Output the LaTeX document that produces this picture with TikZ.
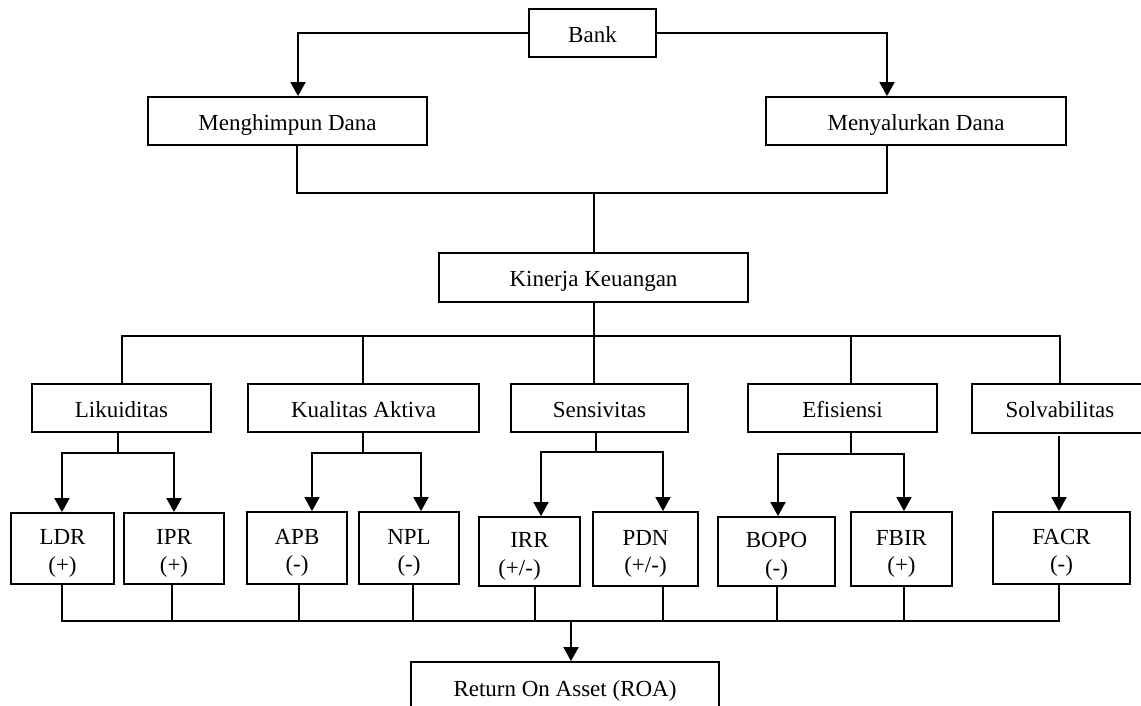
\documentclass[tikz,border=0pt]{standalone}
\usepackage{fontspec}
\setmainfont{Liberation Serif}
\usetikzlibrary{arrows.meta}
\newcommand\tstrut{\rule{0pt}{25pt}}
\begin{document}
\begin{tikzpicture}[x=1pt,y=-1pt,
  box/.style={draw,line width=1.8pt,rectangle,inner sep=0pt,align=center,font=\fontsize{23}{27.5}\selectfont},
  one/.style={box,text height=19pt,text depth=1pt,minimum height=48pt},
  two/.style={box},
  ln/.style={line width=1.8pt},
  arr/.style={line width=1.8pt,-{Triangle[length=14pt,width=15pt]}}]
\useasboundingbox (0,0) rectangle (1141,705);
\clip (0,0) rectangle (1141,705);
% top level
\node[one,minimum width=127pt] (bank) at (592.5,33) {Bank};
\node[one,minimum width=279pt] (mh) at (287.5,121) {Menghimpun Dana};
\node[one,minimum width=300pt] (my) at (916,121) {Menyalurkan Dana};
\node[one,minimum width=309pt,minimum height=49pt] (kk) at (593.5,277.5) {Kinerja Keuangan};
% second level
\node[one,minimum width=179pt] (lik) at (121.5,408) {Likuiditas};
\node[one,minimum width=231pt] (ka) at (363.5,408) {Kualitas Aktiva};
\node[one,minimum width=177pt] (sen) at (599.5,408) {Sensivitas};
\node[one,minimum width=189pt] (efi) at (842.5,408) {Efisiensi};
\node[one,minimum width=176pt,minimum height=49pt] (sol) at (1060,408.5) {Solvabilitas};
% ratios
\node[two,minimum width=103pt,minimum height=71pt] (ldr) at (62.5,548.5) {\tstrut LDR\\(+)};
\node[two,minimum width=100pt,minimum height=71pt] (ipr) at (174,548.5) {\tstrut IPR\\(+)};
\node[two,minimum width=100pt,minimum height=72pt] (apb) at (297,548) {\tstrut APB\\(-)};
\node[two,minimum width=100pt,minimum height=72pt] (npl) at (409,548) {\tstrut NPL\\(-)};
\node[two,minimum width=101pt,minimum height=69pt] (irr) at (529.5,551.5) {\tstrut IRR\\\hspace*{-20pt}(+/-)};
\node[two,minimum width=105pt,minimum height=74pt] (pdn) at (645.5,549) {\tstrut PDN\\(+/-)};
\node[two,minimum width=117pt,minimum height=69pt] (bopo) at (776.5,551.5) {\tstrut BOPO\\(-)};
\node[two,minimum width=101pt,minimum height=74pt] (fbir) at (901.5,549) {\tstrut FBIR\\(+)};
\node[two,minimum width=137pt,minimum height=72pt] (facr) at (1061.5,548) {\tstrut FACR\\(-)};
\node[one,minimum width=308pt,minimum height=50pt] (roa) at (565,687) {Return On Asset (ROA)};
% junctions
\coordinate (j1) at (594,193);
\coordinate (j2) at (594,336);
\coordinate (bb) at (571,621);
% Bank to the two activities
\draw[arr] (bank.west) -| ([xshift=10.5pt]mh.north);
\draw[arr] (bank.east) -| ([xshift=-29pt]my.north);
\draw[ln] ([xshift=9.5pt]mh.south) |- (j1) -| ([xshift=-29pt]my.south);
\draw[ln] (j1) -- (j1 |- kk.north);
% Kinerja to the five aspects
\draw[ln] (j2 |- kk.south) -- (j2);
\draw[ln] ([xshift=0.5pt]lik.north) |- (sol.north |- j2) -- (sol.north);
\draw[ln] ([xshift=-0.5pt]ka.north) -- ([xshift=-0.5pt]ka.north |- j2);
\draw[ln] (j2) -- (j2 |- sen.north);
\draw[ln] ([xshift=8.5pt]efi.north) -- ([xshift=8.5pt]efi.north |- j2);
% aspects to ratios
\draw[ln] ([xshift=-3.5pt]lik.south) -- ++(0,20) coordinate (lj);
\draw[arr] (lj) -| ([xshift=-0.5pt]ldr.north);
\draw[arr] (lj) -| (ipr.north);
\draw[ln] ([xshift=-0.5pt]ka.south) -- ++(0,20) coordinate (kj);
\draw[arr] (kj) -| ([xshift=15pt]apb.north);
\draw[arr] (kj) -| ([xshift=12pt]npl.north);
\draw[ln] ([xshift=-3.5pt]sen.south) -- ++(0,19) coordinate (sj);
\draw[arr] (sj) -| ([xshift=11.5pt]irr.north);
\draw[arr] (sj) -| ([xshift=17.5pt]pdn.north);
\draw[ln] ([xshift=8.5pt]efi.south) -- ++(0,21) coordinate (ej);
\draw[arr] (ej) -| ([xshift=1.5pt]bopo.north);
\draw[arr] (ej) -| ([xshift=2.5pt]fbir.north);
\draw[arr] ([xshift=-1pt,yshift=-2pt]sol.south) -- ([xshift=-2.5pt]facr.north);
% ratios to ROA
\draw[ln] ([xshift=-0.5pt]ldr.south) |- ([xshift=-2.5pt]facr.south |- bb) -- ([xshift=-2.5pt]facr.south);
\draw[ln] ([xshift=-2pt]ipr.south) -- ([xshift=-2pt]ipr.south |- bb);
\draw[ln] ([xshift=2pt]apb.south) -- ([xshift=2pt]apb.south |- bb);
\draw[ln] ([xshift=4pt]npl.south) -- ([xshift=4pt]npl.south |- bb);
\draw[ln] ([xshift=5.5pt]irr.south) -- ([xshift=5.5pt]irr.south |- bb);
\draw[ln] ([xshift=17.5pt]pdn.south) -- ([xshift=17.5pt]pdn.south |- bb);
\draw[ln] ([xshift=0.5pt]bopo.south) -- ([xshift=0.5pt]bopo.south |- bb);
\draw[ln] ([xshift=2.5pt]fbir.south) -- ([xshift=2.5pt]fbir.south |- bb);
\draw[arr] (bb) -- ([xshift=6pt]roa.north);
\end{tikzpicture}
\end{document}
